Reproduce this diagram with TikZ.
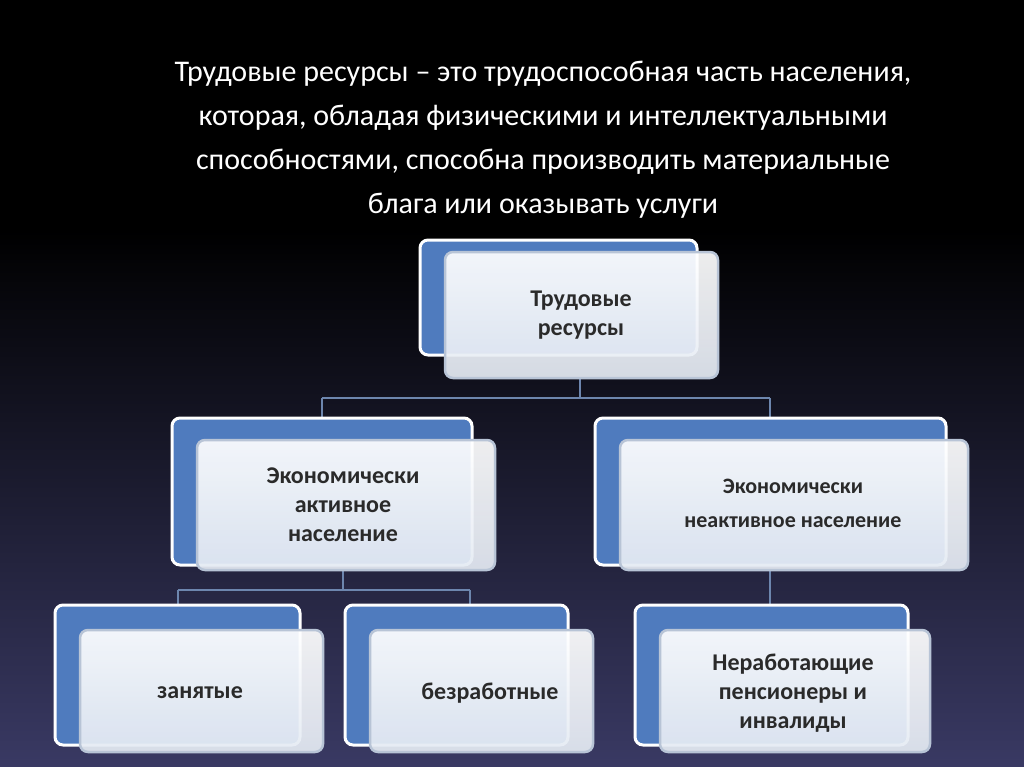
\documentclass[tikz,border=0pt]{standalone}
\usepackage{fontspec}
\setmainfont{Carlito}
\begin{document}
\begin{tikzpicture}[x=1pt,y=-1pt,
  back/.style={draw=white,line width=3pt,rounded corners=8pt,fill=blueback},
  front/.style={draw=frontedge,line width=2.5pt,rounded corners=8pt,top color=white,bottom color=frontfill,fill opacity=0.93},
  lbl/.style={font=\bfseries\fontsize{24}{29}\selectfont,text=darktext,align=center},
  conn/.style={draw=connc,line width=2pt}]
\definecolor{blueback}{HTML}{4F7BBE}
\definecolor{frontedge}{HTML}{B8C4D6}
\definecolor{frontfill}{HTML}{E4EAF3}
\definecolor{darktext}{HTML}{2A2A2A}
\definecolor{connc}{HTML}{6D86AE}
\shade[top color=black,bottom color=black,middle color=black] (0,0) rectangle (1024,230);
\shade[top color=black,bottom color=black!70!blue!55!gray] (0,230) rectangle (1024,767);
\useasboundingbox (0,0) rectangle (1024,767);
\node[text=white,align=center,font=\fontsize{30}{44}\selectfont] (title) at (543,140)
 {Трудовые ресурсы – это трудоспособная часть населения,\\которая, обладая физическими и интеллектуальными\\способностями, способна производить материальные\\блага или оказывать услуги};
% connectors
\coordinate (j1) at (580,398); \coordinate (j1l) at (322,398); \coordinate (j1r) at (770,398);
\coordinate (j2) at (343,590); \coordinate (j2l) at (178,590); \coordinate (j2r) at (470,590);
\draw[conn] (580,378) -- (j1) (j1l) -- (j1r) (j1l) -- (322,420) (j1r) -- (770,420);
\draw[conn] (343,570) -- (j2) (j2l) -- (j2r) (j2l) -- (178,607) (j2r) -- (470,607);
\draw[conn] (770,570) -- (770,607);
% boxes
\path[back] (420,240) rectangle (697,355);
\path[front] (445,252) rectangle (718,378);
\node[lbl] (top) at (581,315) {Трудовые\\ресурсы};
\path[back] (172,418) rectangle (472,565);
\path[front] (197,440) rectangle (495,570);
\node[lbl] (ea) at (343,505) {Экономически\\активное\\население};
\path[back] (595,418) rectangle (946,565);
\path[front] (620,440) rectangle (968,570);
\node[lbl,font=\bfseries\fontsize{22}{34}\selectfont] (en) at (793,503) {Экономически\\неактивное население};
\path[back] (55,605) rectangle (300,745);
\path[front] (80,630) rectangle (323,752);
\node[lbl] (z) at (200,693) {занятые};
\path[back] (345,605) rectangle (568,745);
\path[front] (370,630) rectangle (593,752);
\node[lbl] (b) at (490,693) {безработные};
\path[back] (635,605) rectangle (908,745);
\path[front] (660,630) rectangle (930,752);
\node[lbl] (n) at (793,693) {Неработающие\\пенсионеры и\\инвалиды};
\end{tikzpicture}
\end{document}
